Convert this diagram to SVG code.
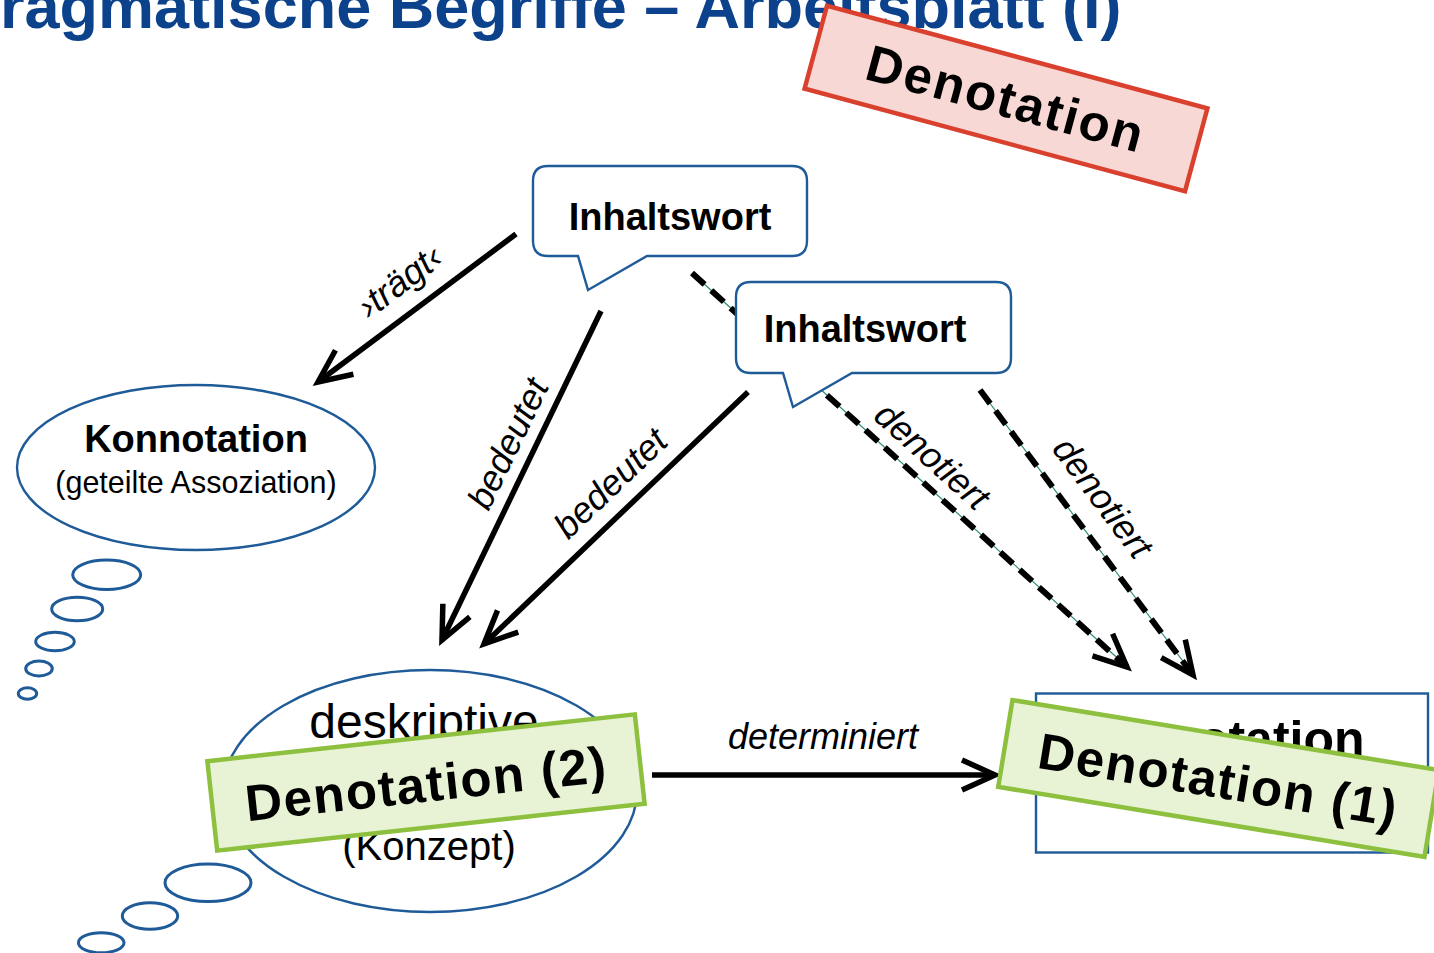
<svg xmlns="http://www.w3.org/2000/svg" width="1434" height="953" viewBox="0 0 1434 953">
  <style>
    .title { font-family: "Liberation Sans", Arial, sans-serif; font-weight: bold; fill: #0b428b; }
    .node { fill: #ffffff; stroke: #1f5b98; stroke-width: 2.4; }
    .bubble { fill: none; stroke: #1f5b98; stroke-width: 3; }
    .bold { font-family: "Liberation Sans", Arial, sans-serif; font-weight: bold; fill: #000; }
    .reg { font-family: "Liberation Sans", Arial, sans-serif; fill: #000; }
    .lbl { font-family: "Liberation Sans", Arial, sans-serif; font-style: italic; fill: #000; font-size: 36px; }
    .solid { fill: none; stroke: #000; stroke-width: 5.5; marker-end: url(#head); }
    .dash { fill: none; stroke: #000; stroke-width: 6; stroke-dasharray: 17 9; marker-end: url(#head); }
    .guide { fill: none; stroke: #2e8b7a; stroke-width: 1.2; }
    .tagRed { fill: #f7d8d4; stroke: #d9412e; stroke-width: 4.5; }
    .tagGreen { fill: #e8f3d5; stroke: #8dc03f; stroke-width: 4.5; }
  </style>
  <defs>
    <marker id="head" markerUnits="userSpaceOnUse" markerWidth="60" markerHeight="60" refX="0" refY="0" viewBox="-40 -30 60 60" orient="auto" overflow="visible">
      <path d="M-33,-15 L0,0 L-33,15" fill="none" stroke="#000" stroke-width="5.5" stroke-linejoin="miter" stroke-linecap="butt"/>
    </marker>
  </defs>

  <rect width="1434" height="953" fill="#ffffff"/>

  <!-- page heading -->
  <text class="title" x="-42" y="28" font-size="63">Pragmatische Begriffe – Arbeitsblatt (I)</text>

  <!-- connectors -->
  <g id="connectors">
    <line class="guide" x1="692" y1="273" x2="1124" y2="664"/>
    <line class="dash" x1="692" y1="273" x2="1127" y2="667"/>
    <line class="guide" x1="980" y1="390" x2="1191" y2="672"/>
    <line class="dash" x1="980" y1="390" x2="1193" y2="675"/>
    <line class="solid" x1="516" y1="234" x2="318" y2="382"/>
    <line class="solid" x1="601" y1="311" x2="442" y2="640"/>
    <line class="solid" x1="748" y1="392" x2="484" y2="644"/>
    <line class="solid" x1="652" y1="775" x2="995" y2="775"/>

    <text class="lbl" transform="translate(407,291) rotate(-37)" text-anchor="middle" font-size="33">›trägt‹</text>
    <text class="lbl" transform="translate(519,449) rotate(-64.1)" text-anchor="middle">bedeutet</text>
    <text class="lbl" transform="translate(619,492) rotate(-43.7)" text-anchor="middle">bedeutet</text>
    <text class="lbl" transform="translate(924,465) rotate(42.2)" text-anchor="middle">denotiert</text>
    <text class="lbl" transform="translate(1093,505) rotate(53.2)" text-anchor="middle">denotiert</text>
    <text class="lbl" x="823" y="749" text-anchor="middle" font-size="34">determiniert</text>
  </g>

  <!-- connotation thought bubble -->
  <g id="konnotation">
    <ellipse class="node" cx="196" cy="467.5" rx="179" ry="82.5"/>
    <text class="bold" x="196" y="452" font-size="38" text-anchor="middle">Konnotation</text>
    <text class="reg" x="196" y="493" font-size="30.5" text-anchor="middle">(geteilte Assoziation)</text>
    <ellipse class="bubble" cx="106.7" cy="574.7" rx="34" ry="14.7"/>
    <ellipse class="bubble" cx="77.2" cy="609" rx="25.5" ry="11.7"/>
    <ellipse class="bubble" cx="55" cy="641.5" rx="19.3" ry="9.2"/>
    <ellipse class="bubble" cx="39" cy="668.5" rx="13.3" ry="7.5"/>
    <ellipse class="bubble" cx="27.5" cy="693.5" rx="9.2" ry="5.8"/>
  </g>

  <!-- concept thought bubble -->
  <g id="konzept">
    <ellipse class="node" cx="430" cy="791" rx="207" ry="121"/>
    <text class="reg" x="424" y="738" font-size="48" text-anchor="middle">deskriptive</text>
    <text class="reg" x="429" y="860" font-size="40" text-anchor="middle">(Konzept)</text>
    <ellipse class="bubble" cx="208" cy="882.8" rx="43" ry="18.8"/>
    <ellipse class="bubble" cx="150" cy="916" rx="27.7" ry="13.3"/>
    <ellipse class="bubble" cx="101.2" cy="942.7" rx="22.8" ry="10"/>
  </g>

  <!-- speech callouts -->
  <g id="inhaltswort-1">
    <path class="node" d="M548,166 H792 Q807,166 807,181 V241 Q807,256 792,256 H647 L588,290 L578,256 H548 Q533,256 533,241 V181 Q533,166 548,166 Z"/>
    <text class="bold" x="670" y="230" font-size="38" text-anchor="middle">Inhaltswort</text>
  </g>
  <g id="inhaltswort-2">
    <path class="node" d="M751,282 H996 Q1011,282 1011,297 V358 Q1011,373 996,373 H852 L793,407 L783,373 H751 Q736,373 736,358 V297 Q736,282 751,282 Z"/>
    <text class="bold" x="865" y="342" font-size="38" text-anchor="middle">Inhaltswort</text>
  </g>

  <!-- referent box -->
  <g id="referent">
    <rect x="1036" y="693.5" width="392" height="159" fill="#ffffff" stroke="#1f5b98" stroke-width="2.4"/>
    <text class="bold" x="1234" y="756" font-size="50" text-anchor="middle">Denotation</text>
  </g>

  <!-- stamped tags -->
  <g id="tag-denotation">
    <g transform="translate(1006,98.5) rotate(15.1)">
      <rect class="tagRed" x="-197" y="-43" width="394" height="86"/>
      <text class="bold" x="0" y="18" font-size="51" letter-spacing="2" text-anchor="middle">Denotation</text>
    </g>
  </g>
  <g id="tag-denotation-2">
    <g transform="translate(426,782.5) rotate(-6.25)">
      <rect class="tagGreen" x="-215" y="-45" width="430" height="90"/>
      <text class="bold" x="0" y="19" font-size="51" letter-spacing="1.5" text-anchor="middle">Denotation (2)</text>
    </g>
  </g>
  <g id="tag-denotation-1">
    <g transform="translate(1218.5,778.5) rotate(9.33)">
      <rect class="tagGreen" x="-216" y="-44" width="432" height="88"/>
      <text class="bold" x="0" y="19" font-size="51" letter-spacing="1.5" text-anchor="middle">Denotation (1)</text>
    </g>
  </g>
</svg>
